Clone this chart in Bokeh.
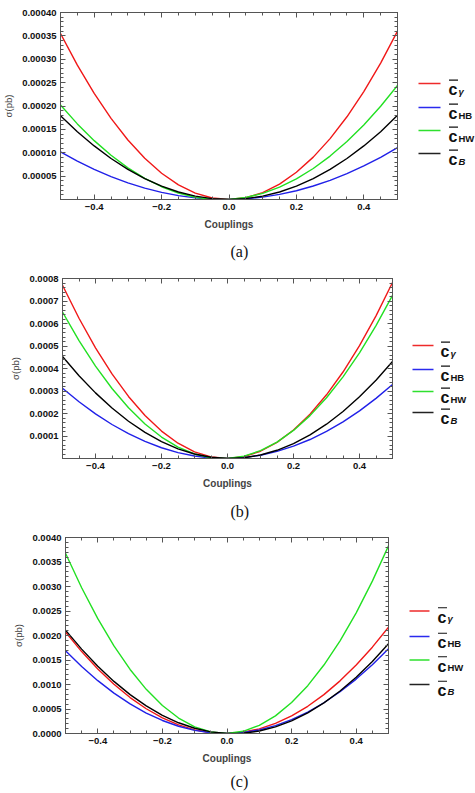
from bokeh.plotting import figure
from bokeh.models import Range1d, FixedTicker, PrintfTickFormatter, LinearAxis, Title
from bokeh.layouts import column, row
from bokeh.embed import file_html
from bokeh.resources import INLINE
from bokeh.core.properties import value

# ---------------- data (cross section in pb vs coupling) ----------------
couplings = [-0.5, -0.45, -0.4, -0.35, -0.3, -0.25, -0.2, -0.15, -0.1, -0.05, 0.0,
             0.05, 0.1, 0.15, 0.2, 0.25, 0.3, 0.35, 0.4, 0.45, 0.5]

# panel (a)
a_cgamma = [355e-6, 287.3e-6, 226.8e-6, 173.4e-6, 127.2e-6, 88.1e-6, 56.2e-6, 31.4e-6, 13.8e-6, 3.3e-6, 0.0,
            3.8e-6, 14.8e-6, 32.9e-6, 58.2e-6, 90.6e-6, 130.2e-6, 176.9e-6, 230.8e-6, 291.8e-6, 360e-6]
a_cHB = [102e-6, 82.2e-6, 64.6e-6, 49.0e-6, 35.6e-6, 24.4e-6, 15.2e-6, 8.2e-6, 3.4e-6, 0.6e-6, 0.0,
         1.5e-6, 5.2e-6, 11.0e-6, 18.8e-6, 28.9e-6, 41.0e-6, 55.3e-6, 71.8e-6, 90.3e-6, 111e-6]
a_cHW = [202e-6, 161.7e-6, 125.9e-6, 94.6e-6, 67.7e-6, 45.3e-6, 27.3e-6, 13.8e-6, 4.7e-6, 0.3e-6, 0.0,
         4.3e-6, 13.1e-6, 26.4e-6, 44.1e-6, 66.3e-6, 92.9e-6, 124.0e-6, 159.5e-6, 199.5e-6, 244e-6]
a_cB = [179e-6, 145e-6, 114.6e-6, 87.7e-6, 64.4e-6, 44.8e-6, 28.6e-6, 16.1e-6, 7.2e-6, 1.8e-6, 0.0,
        1.8e-6, 7.2e-6, 16.1e-6, 28.6e-6, 44.8e-6, 64.4e-6, 87.7e-6, 114.6e-6, 145e-6, 180e-6]

# panel (b)
b_cgamma = [770e-6, 623.2e-6, 491.8e-6, 376.0e-6, 275.8e-6, 191e-6, 121.8e-6, 68.0e-6, 29.8e-6, 7.2e-6, 0.0,
            8.4e-6, 32.2e-6, 71.6e-6, 126.6e-6, 197e-6, 283e-6, 384.4e-6, 501.4e-6, 634e-6, 782e-6]
b_cHB = [312e-6, 252e-6, 198.3e-6, 151.1e-6, 110.3e-6, 75.9e-6, 47.9e-6, 26.3e-6, 11.1e-6, 2.4e-6, 0.0,
         4.1e-6, 14.5e-6, 31.4e-6, 54.7e-6, 84.4e-6, 120.5e-6, 163e-6, 211.9e-6, 267.3e-6, 329e-6]
b_cHW = [651e-6, 524e-6, 410.7e-6, 311.2e-6, 225.5e-6, 153.5e-6, 95.3e-6, 50.8e-6, 20.1e-6, 3.2e-6, 0.0,
         10.6e-6, 34.9e-6, 73.0e-6, 124.9e-6, 190.5e-6, 269.9e-6, 363e-6, 469.9e-6, 590.6e-6, 725e-6]
b_cB = [453e-6, 367.9e-6, 291.7e-6, 224.3e-6, 165.7e-6, 116e-6, 75.1e-6, 43.1e-6, 19.9e-6, 5.5e-6, 0.0,
        3.3e-6, 15.5e-6, 36.5e-6, 66.3e-6, 105e-6, 152.5e-6, 208.9e-6, 274.1e-6, 348.1e-6, 431e-6]

# panel (c)
c_cgamma = [2070e-6, 1672e-6, 1317e-6, 1004e-6, 733e-6, 505e-6, 319e-6, 176e-6, 75e-6, 16e-6, 0.0,
            26e-6, 95e-6, 206e-6, 359e-6, 555e-6, 793e-6, 1074e-6, 1397e-6, 1762e-6, 2170e-6]
c_cHB = [1690e-6, 1367e-6, 1078e-6, 824e-6, 604e-6, 417.5e-6, 265.6e-6, 148e-6, 64.4e-6, 15.1e-6, 0.0,
         19.1e-6, 72.4e-6, 159.9e-6, 281.6e-6, 437.5e-6, 627.6e-6, 851.9e-6, 1110.4e-6, 1403.1e-6, 1730e-6]
c_cHW = [3680e-6, 2974e-6, 2343e-6, 1787e-6, 1307e-6, 901e-6, 571e-6, 315.5e-6, 135e-6, 30e-6, 0.0,
         45e-6, 165e-6, 360.5e-6, 631e-6, 976e-6, 1397e-6, 1892e-6, 2463e-6, 3109e-6, 3830e-6]
c_cB = [2110e-6, 1722e-6, 1373e-6, 1063e-6, 793e-6, 562.5e-6, 371e-6, 219e-6, 107e-6, 34e-6, 0.0,
        5.7e-6, 50.8e-6, 135.3e-6, 259.2e-6, 422.5e-6, 625.2e-6, 867.3e-6, 1148.8e-6, 1469.7e-6, 1830e-6]

x_ticks = [-0.4, -0.2, 0.0, 0.2, 0.4]
x_tick_labels = ["\u22120.4", "\u22120.2", "0.0", "0.2", "0.4"]
a_yticks = [0.00005, 0.0001, 0.00015, 0.0002, 0.00025, 0.0003, 0.00035, 0.0004]
b_yticks = [0.0001, 0.0002, 0.0003, 0.0004, 0.0005, 0.0006, 0.0007, 0.0008]
c_yticks = [0.0, 0.0005, 0.001, 0.0015, 0.002, 0.0025, 0.003, 0.0035, 0.004]

subscripts = ["\u03b3", "HB", "HW", "B"]
sub_styles = ["bold italic", "bold", "bold", "bold italic"]
colors = ["#f01818", "#2020e8", "#22e022", "#000000"]
legend_colors = ["#ee2a2a", "#2a2aee", "#2ee02e", "#222222"]
captions = ["(a)", "(b)", "(c)"]

FONT = "Liberation Sans"
AX = "#555555"


def style_axis(ax, ticker, minor, fmt=None, labels=True):
    ax.ticker = FixedTicker(ticks=ticker, minor_ticks=minor)
    ax.axis_line_color = AX
    ax.major_tick_line_color = AX
    ax.minor_tick_line_color = AX
    ax.major_tick_in = 5
    ax.major_tick_out = 0
    ax.minor_tick_in = 3
    ax.minor_tick_out = 0
    if labels:
        ax.major_label_text_font = FONT
        ax.major_label_text_font_size = "9.5px"
        ax.major_label_text_font_style = "bold"
        ax.major_label_text_color = "#111111"
        ax.major_label_standoff = 4
        if fmt is not None:
            ax.formatter = fmt
    else:
        ax.major_label_text_color = None
        ax.major_label_text_font_size = "1px"
        ax.major_label_standoff = 0


def make_panel(ys, ymax, yticks, yminor, yfmt, height, borders, cap, cap_offset, cap_standoff,
               page_top, rows, lx, cx):
    bl, br, bt, bb = borders
    p = figure(width=405, height=height, x_range=Range1d(-0.5, 0.5),
               y_range=Range1d(0, ymax), toolbar_location=None, output_backend="svg",
               min_border_left=bl, min_border_right=br, min_border_top=bt,
               min_border_bottom=bb, x_axis_label="Couplings", y_axis_label="\u03c3(pb)")
    p.grid.visible = False
    p.outline_line_color = AX
    xminor = [round(-0.5 + 0.05 * i, 2) for i in range(21)]
    style_axis(p.xaxis[0], x_ticks, xminor)
    p.xaxis[0].major_label_overrides = dict(zip(x_ticks, x_tick_labels))
    style_axis(p.yaxis[0], yticks, yminor, PrintfTickFormatter(format=yfmt))
    p.xaxis[0].axis_label_text_font = FONT
    p.xaxis[0].axis_label_text_font_size = "10px"
    p.xaxis[0].axis_label_text_font_style = "bold"
    p.xaxis[0].axis_label_standoff = 6
    p.yaxis[0].axis_label_text_font = FONT
    p.yaxis[0].axis_label_text_font_size = "9.5px"
    p.yaxis[0].axis_label_text_font_style = "normal"
    p.yaxis[0].axis_label_standoff = 5
    top = LinearAxis()
    style_axis(top, x_ticks, xminor, labels=False)
    p.add_layout(top, "above")
    right = LinearAxis()
    style_axis(right, yticks, yminor, labels=False)
    p.add_layout(right, "right")
    for y, c in zip(ys, colors):
        p.line(couplings, y, line_color=c, line_width=1.4)
    p.add_layout(Title(text=cap, align="left", offset=cap_offset,
                       text_font="Liberation Serif", text_font_size="16px",
                       text_font_style="normal", text_color="#111111",
                       standoff=cap_standoff), "below")

    # legend panel: its frame is aligned with the main frame; coordinates are page pixels
    frame_top = page_top + bt
    frame_bottom = page_top + height - bb
    lg = figure(title=None, width=70, height=height,
                x_range=Range1d(405, 475),
                y_range=Range1d(frame_bottom, frame_top), x_axis_type=None,
                y_axis_type=None, toolbar_location=None, output_backend="svg",
                min_border_left=0, min_border_right=0,
                min_border_top=bt, min_border_bottom=bb)
    lg.outline_line_color = None
    lg.grid.visible = False
    for i, y0 in enumerate(rows):
        lg.segment(x0=[lx[0]], y0=[y0], x1=[lx[1]], y1=[y0], line_color=legend_colors[i],
                   line_width=1.6)
        lg.text(x=[cx], y=[y0 + 6.3], text=["c"], text_font=value(FONT),
                text_font_style="bold", text_font_size="16px", text_color="#111111",
                text_baseline="alphabetic", text_align="left")
        lg.segment(x0=[cx + 0.5], y0=[y0 - 3.3], x1=[cx + 9.5], y1=[y0 - 3.3],
                   line_color="#111111", line_width=1.2)
        lg.text(x=[cx + 10], y=[y0 + 7.5], text=[subscripts[i]], text_font=value(FONT),
                text_font_style=sub_styles[i], text_font_size="9.5px", text_color="#111111",
                text_baseline="alphabetic", text_align="left")
    return row(p, lg)


pa = make_panel([a_cgamma, a_cHB, a_cHW, a_cB], 0.0004, a_yticks,
                [round(0.00001 * i, 6) for i in range(41)], "%.5f", 268,
                (60, 8, 12, 69), captions[0], 170, 17, 0, [83, 107, 130, 153], (418, 440), 448)
pb = make_panel([b_cgamma, b_cHB, b_cHW, b_cB], 0.0008, b_yticks,
                [round(0.00002 * i, 6) for i in range(41)], "%.4f", 262,
                (62, 13, 10, 72), captions[1], 168, 19, 268, [345, 369, 391, 412], (412, 433), 440)
pc = make_panel([c_cgamma, c_cHB, c_cHW, c_cB], 0.004, c_yticks,
                [round(0.0001 * i, 5) for i in range(41)], "%.4f", 263,
                (65, 17, 7, 56), captions[2], 165, 8, 530, [612, 638, 662, 687], (409, 429), 437)

layout = column(pa, pb, pc)
open("out.html", "w").write(file_html(layout, INLINE))
